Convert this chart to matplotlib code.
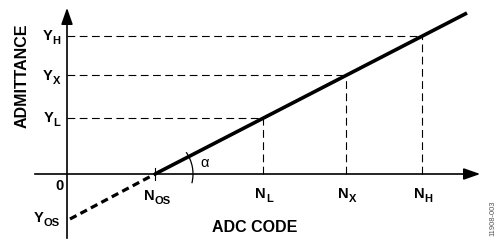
import matplotlib
matplotlib.use("Agg")
import matplotlib.pyplot as plt
from matplotlib.patches import Arc

plt.rcParams['font.family'] = ['Liberation Sans', 'DejaVu Sans']

# data (arbitrary units)
n_os = 88
n_points = [196, 279, 355]          # N_L, N_X, N_H
y_points = [56, 99, 138]            # Y_L, Y_X, Y_H
y_os = -45
line_end = (400, 161)
x_subs = ["L", "X", "H"]
y_subs = ["L", "X", "H"]

fig = plt.figure(figsize=(4.98, 2.42), dpi=100)
ax = fig.add_axes([0, 0, 1, 1])
ax.set_xlim(-67, 431)
ax.set_ylim(-68, 174)
ax.axis('off')
renderer = fig.canvas.get_renderer()

MAIN_FS = 10.5
SUB_FS = 8


def width_px(s, fs):
    t = ax.text(0, 0, s, fontsize=fs, fontweight='bold')
    w = t.get_window_extent(renderer).width
    t.remove()
    return w


def sublabel(x, y, main, sub, ha='center', drop=4):
    """x anchor, y = baseline of main letter (data units == pixels)."""
    wm = width_px(main, MAIN_FS)
    ws = width_px(sub, SUB_FS)
    total = wm + ws
    if ha == 'center':
        x0 = x - total / 2
    elif ha == 'right':
        x0 = x - total
    else:
        x0 = x
    ax.text(x0, y, main, fontsize=MAIN_FS, fontweight='bold', ha='left', va='baseline')
    ax.text(x0 + wm, y - drop, sub, fontsize=SUB_FS, fontweight='bold', ha='left', va='baseline')


# axes
ax.plot([-32, 405], [0, 0], color='black', lw=1.2)
ax.plot([0, 0], [-64, 158], color='black', lw=1.2)
ax.annotate('', xy=(416, 0), xytext=(400, 0),
            arrowprops=dict(arrowstyle='-|>,head_length=1.0,head_width=0.35', color='black', lw=1.2))
ax.annotate('', xy=(0, 169), xytext=(0, 150),
            arrowprops=dict(arrowstyle='-|>,head_length=1.0,head_width=0.35', color='black', lw=1.2))

# main line
ax.plot([n_os, line_end[0]], [0, line_end[1]], color='black', lw=2.6, solid_capstyle='butt')
# offset dashed line
ax.plot([3, n_os], [y_os, 0], color='black', lw=2.3, dashes=(2.3, 1.4))

# dashed guides
for nx, yy in zip(n_points, y_points):
    ax.plot([0, nx], [yy, yy], color='black', lw=0.8, dashes=(7, 4))
    ax.plot([nx, nx], [0, yy], color='black', lw=0.8, dashes=(7, 4))

# tick at N_OS
ax.plot([n_os, n_os], [-6, 6], color='black', lw=0.8)

# angle arc
arc = Arc((n_os, 0), 76, 76, theta1=-14, theta2=35, color='black', lw=0.9)
ax.add_patch(arc)
ax.text(138, 11, "α", fontsize=10.5, ha='center', va='center')

# labels
for nx, s in zip(n_points, x_subs):
    sublabel(nx + 1, -24, "N", s, ha='center')
sublabel(n_os + 2, -26, "N", "OS", ha='center')
for yy, s in zip(y_points, y_subs):
    sublabel(-7, yy - 4.5, "Y", s, ha='right')
sublabel(-7, y_os - 3, "Y", "OS", ha='right')
ax.text(-7.5, -12, "0", fontsize=MAIN_FS, fontweight='bold', ha='center', va='center')

ax.text(187.5, -53, "ADC CODE", fontsize=11.5, fontweight='bold', ha='center', va='center')
ax.text(-44.5, 98, "ADMITTANCE", fontsize=11.5, fontweight='bold', ha='center', va='center', rotation=90)
ax.text(426, -44, "11908-003", fontsize=5.5, color='#555555', ha='center', va='center', rotation=90)

fig.savefig("out.png", dpi=100)
